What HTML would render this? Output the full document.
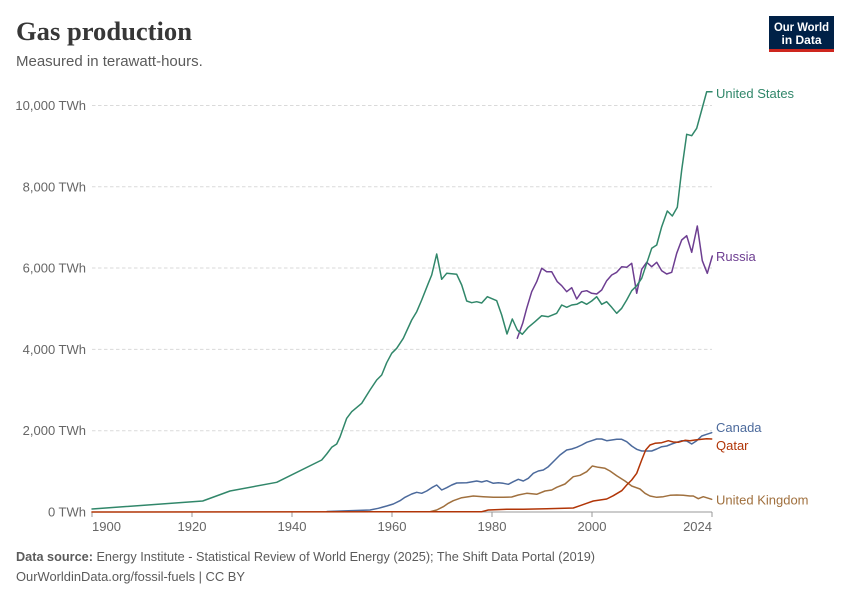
<!DOCTYPE html>
<html>
<head>
<meta charset="utf-8">
<style>
  html,body{margin:0;padding:0;background:#fff;}
  svg{display:block;}
  text{font-family:"Liberation Sans",Arial,sans-serif;}
</style>
</head>
<body>
<svg width="850" height="600" viewBox="0 0 850 600" xmlns="http://www.w3.org/2000/svg">
  <rect width="850" height="600" fill="#fff"/>

  <!-- Title -->
  <text x="16" y="40" font-family="Liberation Serif, serif" font-size="26.5" font-weight="bold" fill="#373737" style="font-family:'Liberation Serif',serif" textLength="176" lengthAdjust="spacingAndGlyphs">Gas production</text>
  <text x="16" y="66" font-size="15" fill="#5b5b5b">Measured in terawatt-hours.</text>

  <!-- Logo -->
  <rect x="769" y="16" width="65" height="36" fill="#002147"/>
  <rect x="769" y="49" width="65" height="3" fill="#ce261e"/>
  <text x="801.5" y="31" font-size="12" font-weight="bold" fill="#fff" text-anchor="middle" textLength="55" lengthAdjust="spacingAndGlyphs">Our World</text>
  <text x="801.5" y="44" font-size="12" font-weight="bold" fill="#fff" text-anchor="middle" textLength="40" lengthAdjust="spacingAndGlyphs">in Data</text>

  <!-- Gridlines -->
  <g stroke="#dadada" stroke-width="1" stroke-dasharray="3.5,2.5">
    <line x1="92" y1="105.5" x2="712" y2="105.5"/>
    <line x1="92" y1="186.8" x2="712" y2="186.8"/>
    <line x1="92" y1="268" x2="712" y2="268"/>
    <line x1="92" y1="349.4" x2="712" y2="349.4"/>
    <line x1="92" y1="430.7" x2="712" y2="430.7"/>
  </g>

  <!-- Y labels -->
  <g font-size="13" fill="#666" text-anchor="end">
    <text x="86" y="110">10,000 TWh</text>
    <text x="86" y="191.3">8,000 TWh</text>
    <text x="86" y="272.5">6,000 TWh</text>
    <text x="86" y="353.9">4,000 TWh</text>
    <text x="86" y="435.2">2,000 TWh</text>
    <text x="86" y="516.5">0 TWh</text>
  </g>

  <!-- X axis -->
  <line x1="92" y1="512" x2="712" y2="512" stroke="#999" stroke-width="1"/>
  <g stroke="#999" stroke-width="1">
    <line x1="92" y1="512" x2="92" y2="517"/>
    <line x1="192" y1="512" x2="192" y2="517"/>
    <line x1="292" y1="512" x2="292" y2="517"/>
    <line x1="392" y1="512" x2="392" y2="517"/>
    <line x1="492" y1="512" x2="492" y2="517"/>
    <line x1="592" y1="512" x2="592" y2="517"/>
    <line x1="712" y1="512" x2="712" y2="517"/>
  </g>
  <g font-size="13" fill="#666">
    <text x="92" y="531">1900</text>
    <text x="192" y="531" text-anchor="middle">1920</text>
    <text x="292" y="531" text-anchor="middle">1940</text>
    <text x="392" y="531" text-anchor="middle">1960</text>
    <text x="492" y="531" text-anchor="middle">1980</text>
    <text x="592" y="531" text-anchor="middle">2000</text>
    <text x="712" y="531" text-anchor="end">2024</text>
  </g>

  <!-- Series -->
  <g fill="none" stroke-width="1.5" stroke-linejoin="round" stroke-linecap="round">
    <!-- UK -->
    <polyline stroke="#a0703e" points="430,511.7 436.7,510 443.3,506.7 448.3,503.3 453.3,500.7 461.7,497.7 473.3,496 483.3,496.7 493.3,497.3 503.3,497.3 511.7,497 518.3,495 526.7,493.3 536.7,494.3 545,491 551.7,490 556.7,487.3 565,484 573.3,476.7 580,475.3 586.7,471.7 592.3,466 598.3,467.3 605,468.3 610,471 616.7,475.7 625,481 631.7,486 640,489 645,493.3 650,496 656.7,497.3 663.3,496.7 670,495.3 676.7,495 683.3,495.3 690,496 693.3,496 698.3,498.7 703.3,496.7 711.7,499.3"/>
    <!-- Canada -->
    <polyline stroke="#4c6a9c" points="327,511.5 370,510 378.3,508.3 386.7,506 393.3,504 400,500.7 405,497.3 411.7,494 416.7,492.3 421.7,493.3 426.7,491 431.7,487.7 436.7,485 441.7,490 446.7,487.7 451.7,485 456.7,483 466.7,482.7 476.7,481 481.7,482 486.7,480.7 493.3,483.3 498.3,482.7 503.3,483.3 508.3,484.3 513.3,481.7 518.3,479.3 523.3,481 528.3,478.3 533.3,473.3 538.3,471 543.3,470 548.3,466.7 555,460 560,455 566.7,450 571.7,449 576.7,447.3 581.7,445 586.7,442.3 591.7,440.7 596.7,439 601.7,439 606.7,440.7 611.7,440 616.7,439.3 621.7,439.3 626.7,441.7 631.7,446 636.7,449.3 641.7,451 651.7,451 656.7,449 661.7,446.7 666.7,446 671.7,444 676.7,442.3 681.7,440.7 686.7,441 691.7,444 696.7,440.7 701.7,436 706.7,434.3 711.7,432.7"/>
    <!-- Qatar -->
    <polyline stroke="#b13507" points="92,512 481.7,511.7 488.3,510 506.7,509.3 523.3,509.3 546.7,508.7 573.3,508 580,505.7 586.7,503.3 593.3,501 600,500 606.7,499 613.3,495.7 621.7,490.7 626.7,485 631.7,480 636.7,473.3 641.7,460 645.7,450 650,445 655,443.3 661.7,442.7 668.3,440.7 673.3,442 678.3,442.3 685,440.3 690,440.7 695,440 701.7,439.3 706.7,438.7 711.7,439"/>
    <!-- Russia -->
    <polyline stroke="#6d3e91" points="517.3,338.3 522.7,323.3 526.7,308.3 531.7,291.7 536.7,281.7 541.7,268.3 546.7,271.7 551.7,271.7 557.3,281.7 561.7,285.7 566.7,291.7 571.7,287.7 576.7,299 581.7,291.7 586.7,290.7 591.7,293.3 596.7,294 601.7,290 606.7,280.7 611.7,275 616.7,272.3 621.7,266.7 626.7,267.3 631.7,263.3 636.7,293.3 641.7,269.3 646.7,262.3 651.7,266.7 656.7,262.3 661.7,270.7 666.7,274 671.7,272.3 676.7,253.3 681.7,240 686.7,235.7 691.7,252.3 697.3,226 702.3,260.7 707.3,273.3 712.3,256"/>
    <!-- United States -->
    <polyline stroke="#31876a" points="92,509 202.7,501 230,491 276.7,482.3 321.7,460 326.7,454 331.7,447.3 336.7,444 340,437 346.7,418.3 351.7,411.7 361.7,403.3 370,390 376.7,380 381.7,375 386.7,362.7 391.7,353.3 396.7,348.3 403.3,338.3 411.7,320 416.7,311.7 421.7,300 428.3,283.3 431.7,275 436.7,254 441.7,279.3 446.7,273.3 456.7,274.3 461.7,285 466.7,301 471.7,302.7 476.7,301.7 481.7,303 487.3,296.7 496.7,300.7 501.7,315 507,334 512.3,319 517.3,330 522.3,334.3 528.3,327.3 535,321.7 541.7,315.7 548.3,316.7 556.7,313.3 561.7,305 566.7,307.3 571.7,305 576.7,304.3 581.7,301.7 586.7,304.3 591.7,301 596.7,296.7 601.7,304.3 606.7,301.7 611.7,307.3 616.7,313.3 621.7,308.3 626.7,300 631.7,290.7 636.7,285.7 641.7,278.3 646.7,263.3 651.7,248.3 656.7,245 661.7,226.7 667.3,211 672.3,216 677.3,207.3 681.7,170 686.7,134.3 691.7,135.7 696.7,128.3 701.7,110 706.7,91.7 712,91.7"/>
  </g>

  <!-- Series labels -->
  <g font-size="13">
    <text x="716" y="98" fill="#31876a">United States</text>
    <text x="716" y="261" fill="#6d3e91">Russia</text>
    <text x="716" y="432" fill="#4c6a9c">Canada</text>
    <text x="716" y="450" fill="#b13507">Qatar</text>
    <text x="716" y="504.5" fill="#a0703e">United Kingdom</text>
  </g>

  <!-- Footer -->
  <text x="16" y="561" font-size="13" fill="#5b5b5b" textLength="579" lengthAdjust="spacingAndGlyphs"><tspan font-weight="bold">Data source:</tspan> Energy Institute - Statistical Review of World Energy (2025); The Shift Data Portal (2019)</text>
  <text x="16" y="581" font-size="13" fill="#5b5b5b" textLength="229" lengthAdjust="spacingAndGlyphs">OurWorldinData.org/fossil-fuels | CC BY</text>
</svg>
</body>
</html>
